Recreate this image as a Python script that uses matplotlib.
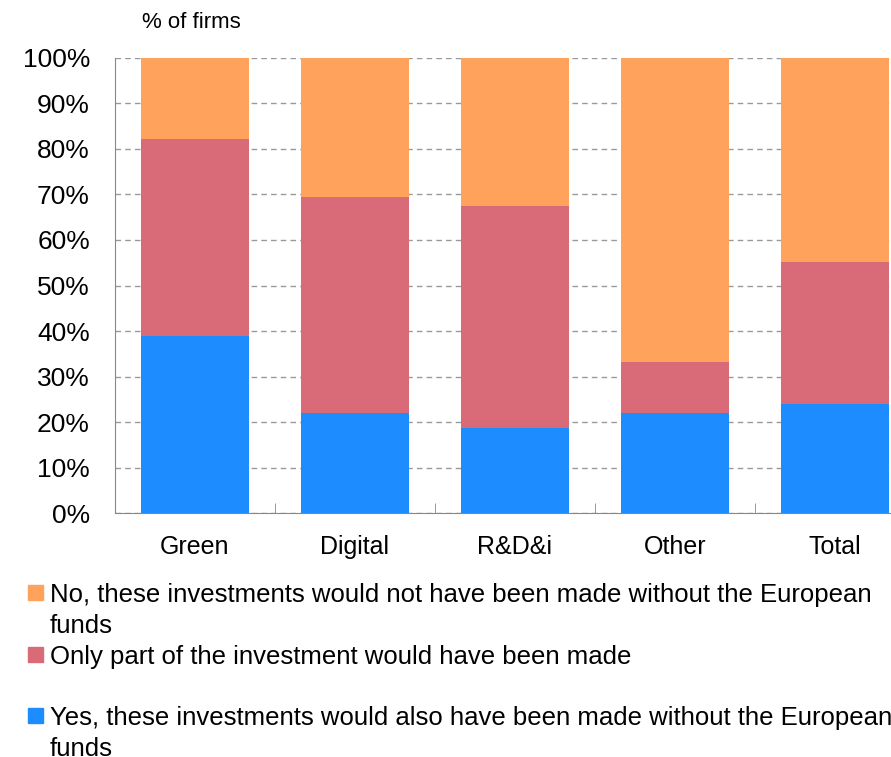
import numpy as np
import matplotlib.pyplot as plt
from matplotlib.patches import Rectangle

plt.rcParams['font.family'] = ['Liberation Sans', 'DejaVu Sans']

# data (% of firms)
categories = ['Green', 'Digital', 'R&D&i', 'Other', 'Total']
yes_also = [39.0, 22.0, 18.7, 22.0, 24.0]
only_part = [43.2, 47.5, 48.8, 11.2, 31.2]
not_made = [17.8, 30.5, 32.5, 66.8, 44.8]

labels = ['No, these investments would not have been made without the European\nfunds',
          'Only part of the investment would have been made',
          'Yes, these investments would also have been made without the European\nfunds']
colors = ['#FFA35C', '#D96B78', '#1C8CFF']

figure = plt.figure(figsize=(8.91, 7.57), dpi=100)
ax = figure.add_axes([0.129, 0.3223, 0.898, 0.6011])

x = np.arange(len(categories))
b1 = np.array(yes_also)
b2 = b1 + np.array(only_part)
ax.bar(x, yes_also, width=0.67, color=colors[2], zorder=3)
ax.bar(x, only_part, width=0.67, bottom=b1, color=colors[1], zorder=3)
ax.bar(x, not_made, width=0.67, bottom=b2, color=colors[0], zorder=3)

ax.set_xlim(-0.5, 4.5)
ax.set_ylim(0, 100)
ax.set_yticks(np.arange(0, 101, 10))
ax.set_yticklabels([f'{v}%' for v in range(0, 101, 10)], fontsize=19)
ax.set_xticks(x)
ax.set_xticklabels(categories, fontsize=18)
ax.set_xticks(np.arange(0.5, 4.5, 1), minor=True)
ax.tick_params(axis='x', which='major', length=0, pad=16)
ax.tick_params(axis='x', which='minor', direction='in', length=7, color='#888888')
ax.tick_params(axis='y', length=0, pad=18)
ax.grid(axis='y', linestyle=(0, (4, 3)), color='#999999', linewidth=1, zorder=0)
for s in ['top', 'right']:
    ax.spines[s].set_visible(False)
ax.spines['left'].set_color('#888888')
ax.spines['bottom'].set_color('#888888')

figure.text(142 / 891, 1 - 22 / 757, '% of firms', fontsize=16, va='center', ha='left')

# legend drawn by hand so the marker sits on the first line
marker_tops = [585, 647, 708]
baselines = [602, 664, 725]
for lab, col, mt, bl in zip(labels, colors, marker_tops, baselines):
    figure.patches.append(Rectangle((28 / 891, 1 - (mt + 15) / 757), 15 / 891, 15 / 757,
                                    transform=figure.transFigure, color=col))
    for i, line in enumerate(lab.split('\n')):
        figure.text(50 / 891, 1 - (bl + 31 * i) / 757, line, fontsize=18.5,
                    va='baseline', ha='left')

plt.savefig('out.png')
